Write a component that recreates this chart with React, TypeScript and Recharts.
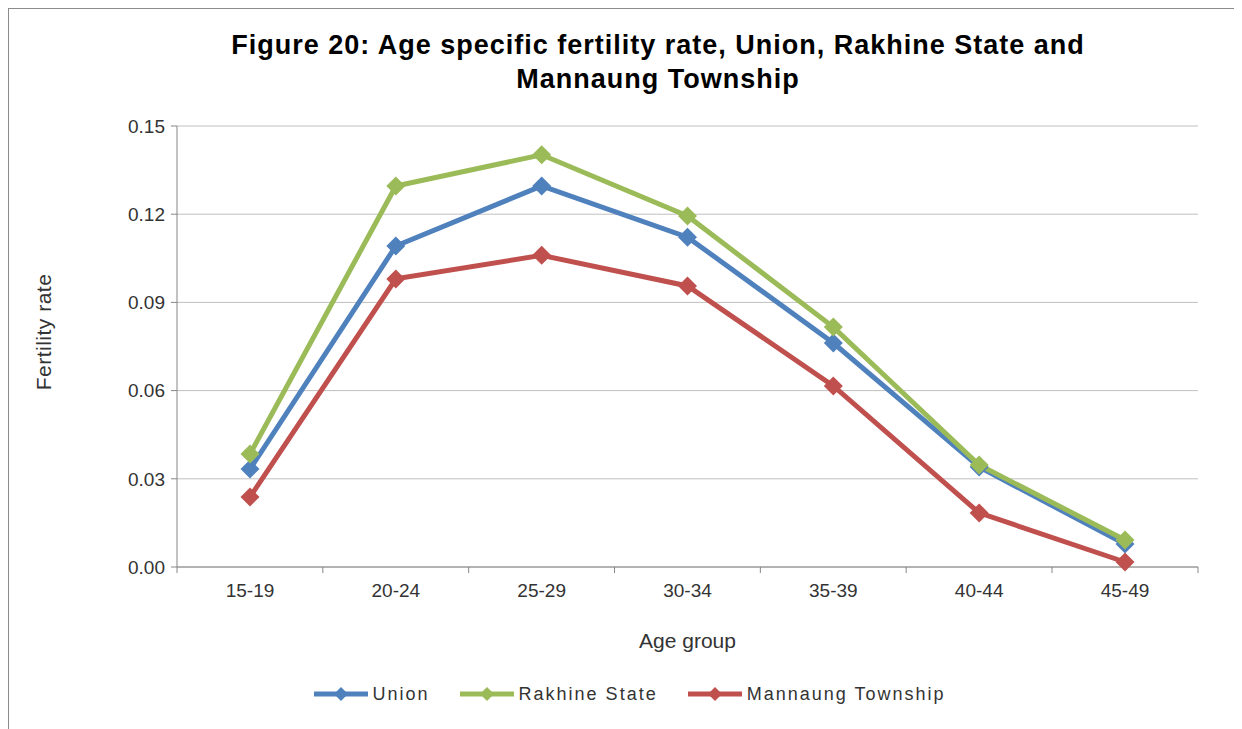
import React from 'react';
import { LineChart, Line, XAxis, YAxis, CartesianGrid, Legend, Label } from 'recharts';

const ageGroups = ['15-19', '20-24', '25-29', '30-34', '35-39', '40-44', '45-49'];
const unionRates = [0.0333, 0.1092, 0.1296, 0.1122, 0.0762, 0.034, 0.0078];
const rakhineRates = [0.0384, 0.1296, 0.1402, 0.1194, 0.0816, 0.0347, 0.0092];
const mannaungRates = [0.0238, 0.098, 0.106, 0.0956, 0.0616, 0.0184, 0.0017];
const yTicks = [0, 0.03, 0.06, 0.09, 0.12, 0.15];

const seriesList = [
  { key: 'union', name: 'Union', color: '#4F81BD' },
  { key: 'rakhine', name: 'Rakhine State', color: '#9BBB59' },
  { key: 'mannaung', name: 'Mannaung Township', color: '#C0504D' },
];

const data = ageGroups.map((age, i) => ({
  age,
  union: unionRates[i],
  rakhine: rakhineRates[i],
  mannaung: mannaungRates[i],
}));

const FONT = '"Liberation Sans", Arial, sans-serif';
const HALF_BAND = 73;

const Diamond = (props: any) => {
  const { cx, cy, stroke } = props;
  if (cx == null || cy == null) return null;
  const s = 9.5;
  return (
    <polygon
      points={`${cx},${cy - s} ${cx + s},${cy} ${cx},${cy + s} ${cx - s},${cy}`}
      fill={stroke}
      stroke="none"
    />
  );
};

const AgeTick = (props: any) => {
  const { x, y, payload, index } = props;
  return (
    <g>
      <line x1={x - HALF_BAND} y1={y} x2={x - HALF_BAND} y2={y + 6} stroke="#868686" />
      {index === ageGroups.length - 1 && (
        <line x1={x + HALF_BAND} y1={y} x2={x + HALF_BAND} y2={y + 6} stroke="#868686" />
      )}
      <text x={x} y={y + 30} textAnchor="middle" fontSize={19} fill="#333" fontFamily={FONT}>
        {payload.value}
      </text>
    </g>
  );
};

const LegendBox = () => (
  <div
    style={{
      height: 30,
      display: 'flex',
      justifyContent: 'center',
      alignItems: 'center',
      fontFamily: FONT,
      fontSize: 18,
      letterSpacing: '2px',
      color: '#333',
    }}
  >
    {seriesList.map((s, i) => (
      <div
        key={s.key}
        style={{ display: 'flex', alignItems: 'center', marginLeft: i === 0 ? 0 : 30 }}
      >
        <svg width={54} height={20} style={{ marginRight: 5 }}>
          <line x1={0} y1={10} x2={54} y2={10} stroke={s.color} strokeWidth={5} />
          <polygon points="27,3 34,10 27,17 20,10" fill={s.color} />
        </svg>
        <span>{s.name}</span>
      </div>
    ))}
  </div>
);

export default function App() {
  return (
    <div
      style={{
        position: 'relative',
        width: 1233,
        height: 720,
        borderLeft: '1px solid #8c8c8c',
        borderTop: '1px solid #8c8c8c',
        background: '#fff',
        fontFamily: FONT,
      }}
    >
      <div
        style={{
          position: 'absolute',
          left: 0,
          top: 19,
          width: 1298,
          textAlign: 'center',
          fontWeight: 'bold',
          fontSize: 27,
          letterSpacing: '1px',
          lineHeight: '34px',
          color: '#000',
        }}
      >
        Figure 20: Age specific fertility rate, Union, Rakhine State and
        <br />
        Mannaung Township
      </div>
      <LineChart
        width={1233}
        height={720}
        data={data}
        margin={{ top: 117, right: 44, left: 0, bottom: 20 }}
      >
        <CartesianGrid vertical={false} stroke="#c0c0c0" />
        <XAxis
          dataKey="age"
          padding={{ left: HALF_BAND, right: HALF_BAND }}
          height={112}
          stroke="#868686"
          tickLine={false}
          tickSize={0}
          tickMargin={0}
          tick={<AgeTick />}
          interval={0}
        >
          <Label
            content={(p: any) => (
              <text
                x={p.viewBox.x + p.viewBox.width / 2}
                y={p.viewBox.y + 73}
                textAnchor="middle"
                dominantBaseline="central"
                fontSize={21}
                fill="#333"
                fontFamily={FONT}
              >
                Age group
              </text>
            )}
          />
        </XAxis>
        <YAxis
          width={168}
          domain={[0, 0.15]}
          ticks={yTicks}
          tickFormatter={(v: number) => v.toFixed(2)}
          stroke="#868686"
          tickSize={6}
          tickMargin={6}
          tick={{ fontSize: 19, fill: '#333', fontFamily: FONT }}
        >
          <Label
            content={() => {
              const cx = 34.5;
              const cy = 323;
              return (
                <text
                  x={cx}
                  y={cy}
                  transform={`rotate(-90, ${cx}, ${cy})`}
                  textAnchor="middle"
                  dominantBaseline="central"
                  fontSize={21}
                  letterSpacing="0.5px"
                  fill="#333"
                  fontFamily={FONT}
                >
                  Fertility rate
                </text>
              );
            }}
          />
        </YAxis>
        <Legend
          verticalAlign="bottom"
          content={<LegendBox />}
          wrapperStyle={{ left: 4, width: 1233 }}
        />
        {seriesList.map((s) => (
          <Line
            key={s.key}
            type="linear"
            dataKey={s.key}
            name={s.name}
            stroke={s.color}
            strokeWidth={5}
            dot={<Diamond />}
            activeDot={false}
            isAnimationActive={false}
          />
        ))}
      </LineChart>
    </div>
  );
}
